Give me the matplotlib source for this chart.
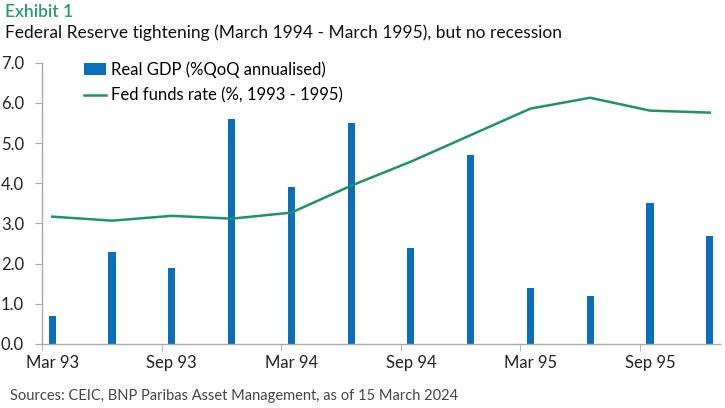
import matplotlib
matplotlib.use('Agg')
import matplotlib.pyplot as plt
import numpy as np

# quarterly data, Mar 93 - Dec 95
quarters = ['Mar 93', 'Jun 93', 'Sep 93', 'Dec 93', 'Mar 94', 'Jun 94',
            'Sep 94', 'Dec 94', 'Mar 95', 'Jun 95', 'Sep 95', 'Dec 95']
gdp = [0.7, 2.3, 1.9, 5.6, 3.9, 5.5, 2.4, 4.7, 1.4, 1.2, 3.5, 2.7]
fedFunds = [3.17, 3.07, 3.19, 3.12, 3.27, 3.94, 4.54, 5.2, 5.86, 6.13, 5.81, 5.76]
yTicks = [0.0, 1.0, 2.0, 3.0, 4.0, 5.0, 6.0, 7.0]

plt.rcParams['font.family'] = ['Lato', 'DejaVu Sans']

blue = '#0a6ebd'
green = '#1e9364'

fig = plt.figure(figsize=(7.25, 4.08), dpi=100)
ax = fig.add_axes([0.058, 0.157, 0.935, 0.689])

x = np.arange(len(quarters))
bars = ax.bar(x, gdp, width=0.12, color=blue, label='Real GDP (%QoQ annualised)')
line, = ax.plot(x, fedFunds, color=green, lw=1.8, label='Fed funds rate (%, 1993 - 1995)')

ax.set_xlim(-0.17, len(quarters) - 0.83)
ax.set_ylim(0, 7)
ax.set_yticks(yTicks)
ax.set_yticklabels(['%.1f' % v for v in yTicks], fontsize=12, color='#222222')

# labels centred on quarters, tick marks just left of them
ax.set_xticks(x[::2])
ax.set_xticklabels(quarters[::2], fontsize=12, color='#222222')
ax.tick_params(axis='x', which='major', length=0, pad=8)
ax.set_xticks(x[::2] - 0.17, minor=True)
ax.tick_params(axis='x', which='minor', length=5, color='#aaaaaa')
ax.tick_params(axis='y', length=5, color='#aaaaaa', pad=8)

for s in ['top', 'right']:
    ax.spines[s].set_visible(False)
for s in ['left', 'bottom']:
    ax.spines[s].set_color('#aaaaaa')
    ax.spines[s].set_linewidth(1)

ax.legend([bars, line], [bars.get_label(), line.get_label()],
          loc='upper left', bbox_to_anchor=(0.04, 1.06), frameon=False,
          fontsize=12, handlelength=1.3, handletextpad=0.3, labelspacing=0.6)

fig.text(0.007, 0.97, 'Exhibit 1', color='#2a9a6c', fontsize=12.5,
         fontweight='semibold', va='center')
fig.text(0.007, 0.92, 'Federal Reserve tightening (March 1994 - March 1995), but no recession',
         color='#111111', fontsize=12.5, va='center')
fig.text(0.014, 0.03, 'Sources: CEIC, BNP Paribas Asset Management, as of 15 March 2024',
         color='#444444', fontsize=10.5, va='center')

fig.savefig('out.png', dpi=100)
